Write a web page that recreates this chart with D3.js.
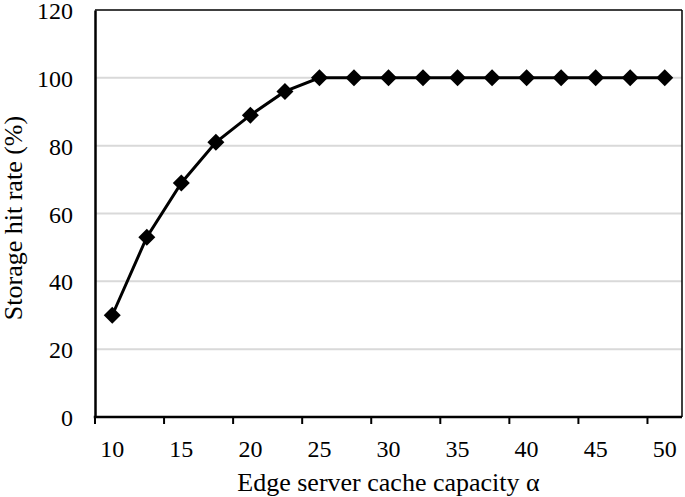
<!DOCTYPE html>
<html><head><meta charset="utf-8">
<script src="https://cdn.jsdelivr.net/npm/d3@7"></script>
<style>body{margin:0;background:#fff}svg{display:block}text{font-family:"Liberation Serif","Times New Roman",serif;fill:#000}</style>
</head><body><svg id="c" width="685" height="497"></svg>
<script>
const categories = [10,12.5,15,17.5,20,22.5,25,27.5,30,32.5,35,37.5,40,42.5,45,47.5,50];
const hitRate = [30,53,69,81,89,96,100,100,100,100,100,100,100,100,100,100,100];
const yTicks = [0,20,40,60,80,100,120];
const xLabels = [10,15,20,25,30,35,40,45,50];

const svg = d3.select("#c");
const L = 95, R = 682, T = 10, B = 417;
const x = d3.scaleBand().domain(categories).range([L, R]);
const y = d3.scaleLinear().domain([0, 120]).range([B, T]);

// gridlines
svg.append("g").selectAll("line").data(yTicks.filter(d => d > 0 && d < 120)).join("line")
  .attr("x1", L).attr("x2", R).attr("y1", d => y(d)).attr("y2", d => y(d))
  .attr("stroke", "#d9d9d9").attr("stroke-width", 2);

// border top/right
svg.append("line").attr("x1", L).attr("x2", R).attr("y1", T).attr("y2", T).attr("stroke", "#000").attr("stroke-width", 1.5);
svg.append("line").attr("x1", R).attr("x2", R).attr("y1", T).attr("y2", B).attr("stroke", "#000").attr("stroke-width", 1.5);

// y axis
const yAxis = svg.append("g").attr("transform", `translate(${L},0)`)
  .call(d3.axisLeft(y).tickValues(yTicks).tickSize(0).tickPadding(22));
yAxis.select(".domain").attr("stroke", "#000").attr("stroke-width", 2.5);
yAxis.selectAll("text").attr("font-size", 24).attr("font-family", "Liberation Serif").attr("dy", "0.36em");

// x axis: ticks every 2 categories at boundaries
const tickIdx = d3.range(0, categories.length, 2);
const xg = svg.append("g");
xg.append("line").attr("x1", L - 1.25).attr("x2", R).attr("y1", B).attr("y2", B).attr("stroke", "#000").attr("stroke-width", 2.5);
xg.selectAll("line.t").data(tickIdx).join("line").attr("class", "t")
  .attr("x1", i => x(categories[i])).attr("x2", i => x(categories[i]))
  .attr("y1", B).attr("y2", B + 7).attr("stroke", "#000").attr("stroke-width", 2);
xg.selectAll("text").data(tickIdx).join("text")
  .attr("x", i => x(categories[i]) + x.bandwidth() / 2).attr("y", 457)
  .attr("text-anchor", "middle").attr("font-size", 24)
  .text((i, k) => xLabels[k]);

// line
const line = d3.line().x((d, i) => x(categories[i]) + x.bandwidth() / 2).y(d => y(d));
svg.append("path").datum(hitRate).attr("d", line).attr("fill", "none").attr("stroke", "#000").attr("stroke-width", 3);

// markers
svg.append("g").selectAll("path").data(hitRate).join("path")
  .attr("transform", (d, i) => `translate(${x(categories[i]) + x.bandwidth() / 2},${y(d)})`)
  .attr("d", "M0,-8.5L8.5,0L0,8.5L-8.5,0Z").attr("fill", "#000");

// axis titles
svg.append("text").attr("x", (L + R) / 2).attr("y", 491).attr("text-anchor", "middle")
  .attr("font-size", 26).text("Edge server cache capacity α");
svg.append("text").attr("transform", `translate(22,218) rotate(-90)`).attr("text-anchor", "middle")
  .attr("font-size", 26).text("Storage hit rate (%)");
</script></body></html>
